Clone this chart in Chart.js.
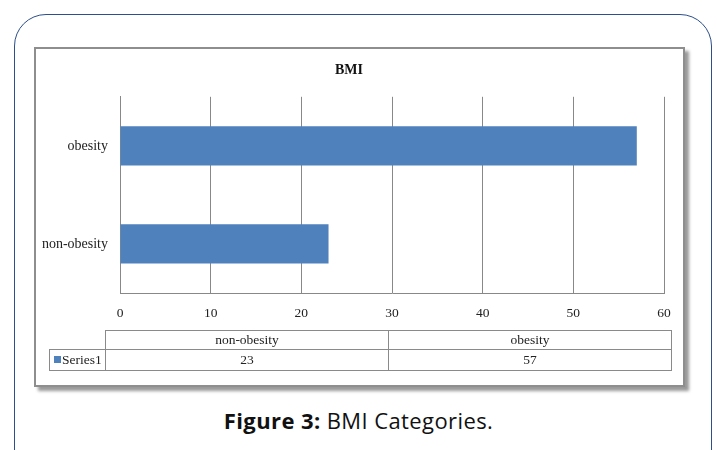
<!DOCTYPE html>
<html>
<head>
<meta charset="utf-8">
<script src="https://cdn.jsdelivr.net/npm/chart.js@4/dist/chart.umd.min.js"></script>
<style>
  body { margin: 0; background: #fff; width: 717px; height: 450px; overflow: hidden; position: relative; font-family: "Liberation Serif", "Times New Roman", serif; }
  #outer { position: absolute; left: 14px; top: 14px; width: 698px; height: 470px; border: 1.5px solid #2d4f8a; border-radius: 32px; box-sizing: border-box; }
  #frame { position: absolute; left: 34px; top: 47px; width: 651px; height: 340px; border: 2px solid #8e8e8e; box-sizing: border-box; box-shadow: 4px 4px 3px #9a9a9a; background: #fff; }
  #chartBox { position: absolute; left: 34px; top: 47px; width: 651px; height: 340px; }
  table.dt { position: absolute; border-collapse: collapse; table-layout: fixed; width: 622px; font-size: 13.5px; color: #222; }
  table.dt td { border: 1.3px solid #8a8a8a; text-align: center; padding: 0; height: 18px; line-height: 16px; }
  #caption { position: absolute; left: 0; width: 717px; top: 405px; text-align: center; font-family: "Open Sans", sans-serif; font-size: 22px; letter-spacing: 0.4px; color: #111; }
  .key { display: inline-block; width: 7px; height: 7px; background: #4f81bd; margin-right: 1px; vertical-align: 1px; }
</style>
</head>
<body>
<div id="outer"></div>
<div id="frame"></div>
<div id="chartBox"><canvas id="bmiChart" width="651" height="340"></canvas></div>
<table class="dt" id="dataTable" style="left:49px; top:330px;"></table>
<div id="caption"><b>Figure 3:</b> BMI Categories.</div>
<script>
const categories = ['non-obesity', 'obesity'];
const seriesName = 'Series1';
const values = [23, 57];
const xTicks = [0, 10, 20, 30, 40, 50, 60];

// data table under the chart
function buildTable(){
    const t = document.getElementById('dataTable');
    let html = '<colgroup><col style="width:56px">';
    categories.forEach(() => { html += '<col style="width:283px">'; });
    html += '</colgroup><tr><td style="border:none;border-bottom:1.3px solid #8a8a8a"></td>';
    categories.forEach(c => { html += '<td>' + c + '</td>'; });
    html += '</tr><tr><td style="text-align:left;padding-left:4px;height:20px"><span class="key"></span>' + seriesName + '</td>';
    values.forEach(v => { html += '<td style="height:20px">' + v + '</td>'; });
    html += '</tr>';
    t.innerHTML = html;
}
buildTable();

const ctx = document.getElementById('bmiChart').getContext('2d');
const serif = "'Liberation Serif', 'Times New Roman', serif";

new Chart(ctx, {
    type: 'bar',
    data: {
        // top-to-bottom order: obesity first
        labels: categories.slice().reverse(),
        datasets: [{
            label: seriesName,
            data: values.slice().reverse(),
            backgroundColor: '#4f81bd',
            borderWidth: 0,
            barPercentage: 0.4,
            categoryPercentage: 1.0
        }]
    },
    options: {
        indexAxis: 'y',
        responsive: false,
        animation: false,
        layout: { padding: { left: 0, right: 21, top: 0, bottom: 0 } },
        plugins: {
            legend: { display: false },
            tooltip: { enabled: false },
            title: {
                display: true,
                text: 'BMI',
                color: '#111',
                font: { family: serif, size: 14, weight: 'bold' },
                padding: { top: 15, bottom: 18 }
            }
        },
        scales: {
            x: {
                min: xTicks[0],
                max: xTicks[xTicks.length - 1],
                afterBuildTicks: axis => { axis.ticks = xTicks.map(v => ({ value: v })); },
                afterFit: axis => { axis.height = 94; },
                ticks: { color: '#222', font: { family: serif, size: 13.5 }, padding: 12 },
                grid: { color: '#888', lineWidth: 1, drawTicks: false },
                border: { color: '#888', width: 1 }
            },
            y: {
                afterFit: axis => { axis.width = 86; },
                ticks: { color: '#222', font: { family: serif, size: 14 }, padding: 12 },
                grid: { display: false, drawTicks: false },
                border: { color: '#888', width: 1 }
            }
        }
    }
});
</script>
</body>
</html>
